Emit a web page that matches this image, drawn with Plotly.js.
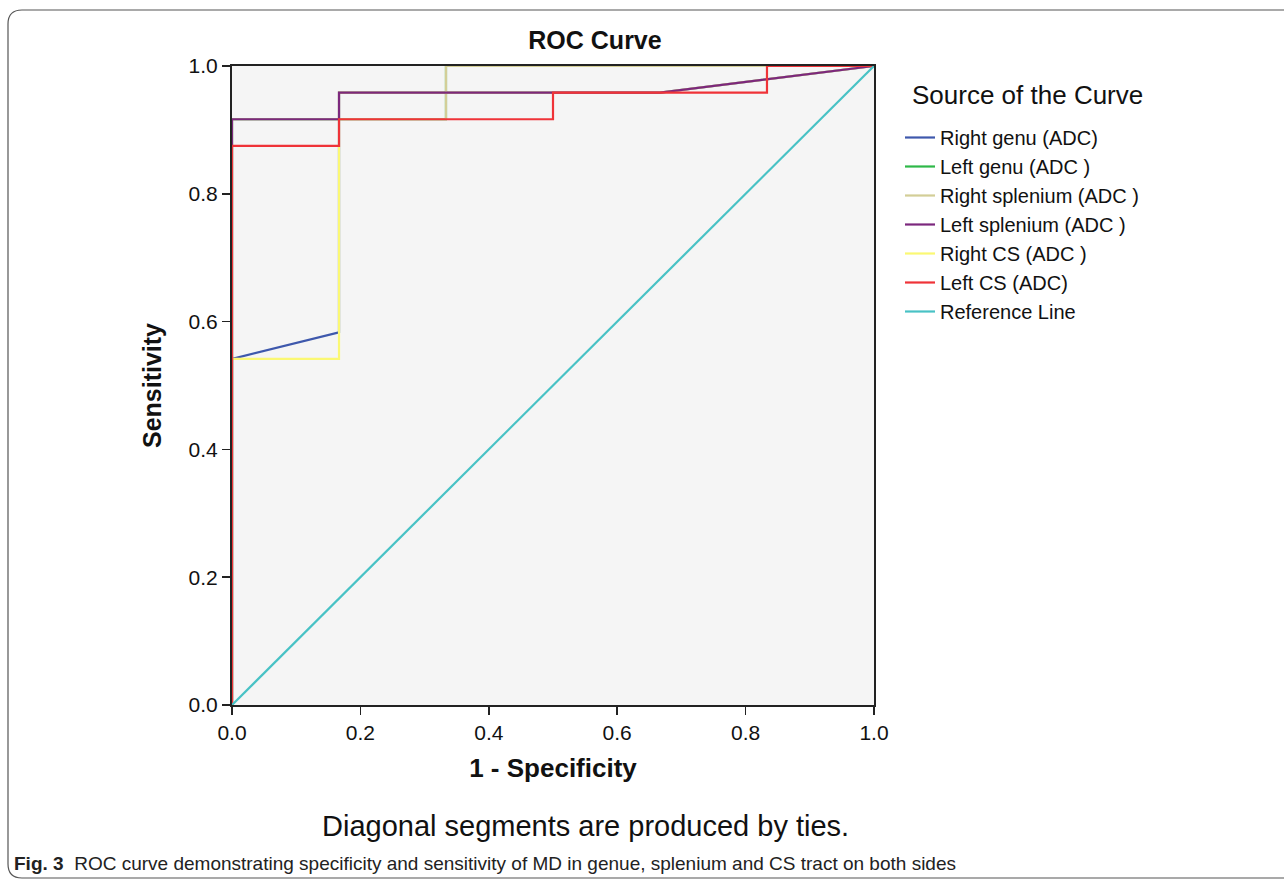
<!DOCTYPE html>
<html>
<head>
<meta charset="utf-8">
<script src="https://cdn.plot.ly/plotly-3.0.1.min.js"></script>
<style>html,body{margin:0;padding:0;background:#fff;}#chart{width:1284px;height:881px;}</style>
</head>
<body>
<div id="chart"></div>
<script>
// ---- Data (1 - Specificity, Sensitivity) ----
const seriesNames = ["Right genu (ADC)", "Left genu (ADC )", "Right splenium (ADC )", "Left splenium (ADC )", "Right CS (ADC )", "Left CS (ADC)", "Reference Line"];
const rightGenuX = [0, 0, 0.1667, 0.1667, 0.6667, 1];
const rightGenuY = [0, 0.5417, 0.5833, 0.9583, 0.9583, 1];
const leftGenuX = [0, 0, 0.3333, 0.3333, 1];
const leftGenuY = [0, 0.9167, 0.9167, 1, 1];
const rightSpleniumX = [0, 0, 0.3333, 0.3333, 1];
const rightSpleniumY = [0, 0.9167, 0.9167, 1, 1];
const leftSpleniumX = [0, 0, 0.1667, 0.1667, 0.6667, 1];
const leftSpleniumY = [0, 0.9167, 0.9167, 0.9583, 0.9583, 1];
const rightCSX = [0, 0, 0.1667, 0.1667, 0.6667, 1];
const rightCSY = [0, 0.5417, 0.5417, 0.9583, 0.9583, 1];
const leftCSX = [0, 0, 0.1667, 0.1667, 0.5, 0.5, 0.8333, 0.8333, 1];
const leftCSY = [0, 0.875, 0.875, 0.9167, 0.9167, 0.9583, 0.9583, 1, 1];
const referenceX = [0, 1];
const referenceY = [0, 1];
const tickValues = [0, 0.2, 0.4, 0.6, 0.8, 1.0];
const tickLabels = ["0.0", "0.2", "0.4", "0.6", "0.8", "1.0"];

const colors = ["#3E58AC", "#2EB848", "#D3CE97", "#7C287D", "#FBF873", "#EF3338", "#48C2C5"];
const xs = [rightGenuX, leftGenuX, rightSpleniumX, leftSpleniumX, rightCSX, leftCSX, referenceX];
const ys = [rightGenuY, leftGenuY, rightSpleniumY, leftSpleniumY, rightCSY, leftCSY, referenceY];
// drawing order (bottom to top); legend keeps the original order via legendrank
const drawOrder = [0, 4, 1, 2, 3, 5, 6];

const traces = drawOrder.map(i => ({
  type: "scatter", mode: "lines", name: seriesNames[i], x: xs[i], y: ys[i],
  legendrank: 1000 + i,
  line: {color: colors[i], width: 2.2},
  hoverinfo: "skip"
}));

// pixel -> paper helpers (plot area: x 232..874, y 66..705)
const L = 232, R = 874, T = 66, B = 705;
const px = v => (v - L) / (R - L);
const py = v => (B - v) / (B - T);

const font = "Liberation Sans, Arial, sans-serif";

const layout = {
  width: 1284, height: 881,
  margin: {l: L, r: 1284 - R, t: T, b: 881 - B},
  paper_bgcolor: "#ffffff",
  plot_bgcolor: "#F5F5F5",
  showlegend: true,
  font: {family: font, color: "#111"},
  xaxis: {
    range: [0, 1], tickvals: tickValues, ticktext: tickLabels,
    showgrid: false, zeroline: false, showline: true, mirror: true,
    linecolor: "#222", linewidth: 2, ticks: "outside", ticklen: 8, tickwidth: 1.5, tickcolor: "#222",
    tickfont: {size: 21, family: font, color: "#111"},
    title: {text: "<b>1 - Specificity</b>", font: {size: 26, family: font, color: "#111"}, standoff: 16},
    fixedrange: true
  },
  yaxis: {
    range: [0, 1], tickvals: tickValues, ticktext: tickLabels,
    showgrid: false, zeroline: false, showline: true, mirror: true,
    linecolor: "#222", linewidth: 2, ticks: "outside", ticklen: 8, tickwidth: 1.5, tickcolor: "#222",
    tickfont: {size: 21, family: font, color: "#111"},
    title: {text: "<b>Sensitivity</b>", font: {size: 25, family: font, color: "#111"}, standoff: 20},
    fixedrange: true
  },
  legend: {
    x: px(900), y: py(118), xanchor: "left", yanchor: "top",
    bgcolor: "rgba(0,0,0,0)",
    font: {size: 20, family: font, color: "#111"},
    tracegroupgap: 0,
    itemwidth: 30
  },
  title: {
    text: "<b>ROC Curve</b>", font: {size: 25, family: font, color: "#111"},
    xref: "paper", x: px(595), xanchor: "center",
    yref: "container", y: 1 - 40 / 881, yanchor: "middle"
  },
  annotations: [
    {text: "Source of the Curve", xref: "paper", yref: "paper",
     x: px(910), y: py(95), xanchor: "left", yanchor: "middle", showarrow: false,
     font: {size: 26, family: font, color: "#111"}},
    {text: "Diagonal segments are produced by ties.", xref: "paper", yref: "paper",
     x: px(585), y: py(826), xanchor: "center", yanchor: "middle", showarrow: false,
     font: {size: 29, family: font, color: "#111"}},
    {text: "<b>Fig. 3</b>  ROC curve demonstrating specificity and sensitivity of MD in genue, splenium and CS tract on both sides",
     xref: "paper", yref: "paper", x: px(12), y: py(863), xanchor: "left", yanchor: "middle", showarrow: false,
     font: {size: 19, family: font, color: "#222"}}
  ],
  shapes: [
    {type: "path", xref: "paper", yref: "paper",
     path: "M " + px(1290) + "," + py(10) + " L " + px(22) + "," + py(10) +
           " Q " + px(8) + "," + py(10) + " " + px(8) + "," + py(24) +
           " L " + px(8) + "," + py(864) +
           " Q " + px(8) + "," + py(878) + " " + px(22) + "," + py(878) +
           " L " + px(1290) + "," + py(878),
     line: {color: "#555", width: 1.2}}
  ]
};

Plotly.newPlot("chart", traces, layout, {displayModeBar: false, staticPlot: true});
</script>
</body>
</html>
